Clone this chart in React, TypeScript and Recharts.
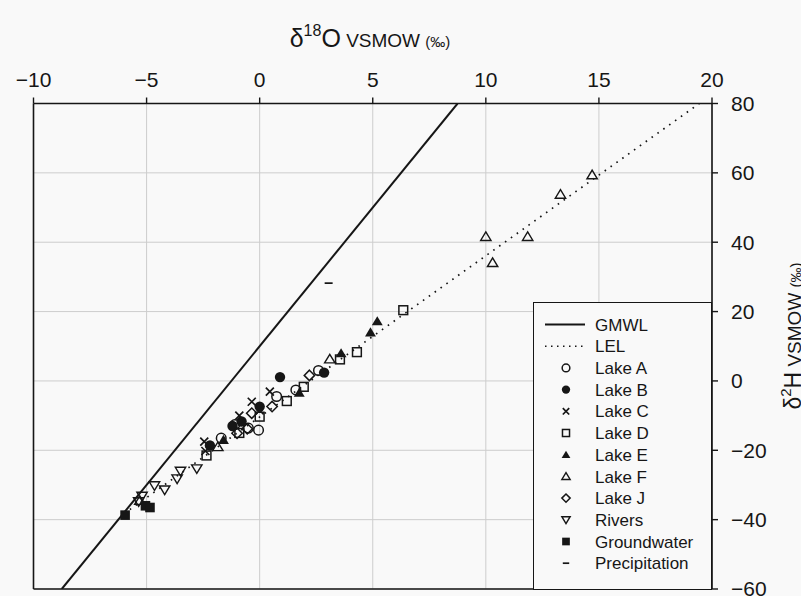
import React from "react";
import {
  ScatterChart,
  Scatter,
  XAxis,
  YAxis,
  CartesianGrid,
  ReferenceLine,
  Legend,
  Customized,
} from "recharts";

const FONT = '"Liberation Sans", Arial, sans-serif';
const INK = "#161616";
const BG = "#f9f9f9";

const X_TICKS = [-10, -5, 0, 5, 10, 15, 20];
const Y_TICKS = [-60, -40, -20, 0, 20, 40, 60, 80];

// reference lines (δ18O, δ2H)
const GMWL: [number, number][] = [[-8.75, -60], [8.75, 80]];
const LEL: [number, number][] = [[-6, -38.3], [19.44, 80]];

// samples
const LAKE_A: [number, number][] = [
  [-1.7, -16.5], [-1.1, -12.6], [-0.5, -13.6], [-0.05, -14.2], [0.75, -4.5], [1.6, -2.6], [2.6, 3.0],
];
const LAKE_B: [number, number][] = [
  [-2.2, -18.6], [-1.2, -13.0], [-0.8, -11.7], [0.0, -7.4], [0.9, 1.1], [2.85, 2.4],
];
const LAKE_C: [number, number][] = [
  [-2.45, -17.5], [-2.4, -20.2], [-0.9, -10.0], [-0.35, -6.0], [0.0, -8.5], [0.45, -3.1],
];
const LAKE_D: [number, number][] = [
  [-2.35, -21.5], [-0.9, -15.0], [0.0, -10.3], [1.2, -5.8], [1.95, -1.7], [3.55, 6.2], [4.3, 8.3], [6.35, 20.4],
];
const LAKE_E: [number, number][] = [
  [-1.6, -17.0], [1.75, -3.4], [3.6, 8.0], [4.9, 14.0], [5.2, 17.2],
];
const LAKE_F: [number, number][] = [
  [-5.3, -34.5], [-1.85, -19.0], [3.1, 6.3], [10.0, 41.6], [10.3, 34.1], [11.85, 41.6], [13.3, 53.8], [14.7, 59.4],
];
const LAKE_J: [number, number][] = [
  [-1.0, -15.1], [-0.55, -13.8], [-0.35, -9.3], [0.55, -7.4], [2.2, 1.6],
];
const RIVERS: [number, number][] = [
  [-5.35, -34.8], [-5.2, -33.2], [-4.65, -30.2], [-4.2, -31.4], [-3.65, -28.2], [-3.5, -26.0], [-2.78, -25.3],
];
const GROUNDWATER: [number, number][] = [[-5.95, -38.7], [-5.05, -36.0], [-4.85, -36.5]];
const PRECIPITATION: [number, number][] = [[3.05, 28.2]];

const pts = (a: [number, number][]) => a.map(([x, y]) => ({ x, y }));

type P = { cx?: number; cy?: number; s?: number };

const NoDot = () => <g />;
const OpenCircle = ({ cx = 0, cy = 0, s = 1 }: P) => (
  <circle cx={cx} cy={cy} r={4.8 * s} fill="none" stroke={INK} strokeWidth={1.5} />
);
const FilledCircle = ({ cx = 0, cy = 0, s = 1 }: P) => <circle cx={cx} cy={cy} r={5.2 * s} fill={INK} />;
const Cross = ({ cx = 0, cy = 0, s = 1 }: P) => {
  const d = 4 * s;
  return (
    <path
      d={`M${cx - d},${cy - d}L${cx + d},${cy + d}M${cx - d},${cy + d}L${cx + d},${cy - d}`}
      stroke={INK}
      strokeWidth={1.7}
    />
  );
};
const OpenSquare = ({ cx = 0, cy = 0, s = 1 }: P) => {
  const d = 4.4 * s;
  return <rect x={cx - d} y={cy - d} width={2 * d} height={2 * d} fill="none" stroke={INK} strokeWidth={1.5} />;
};
const FilledSquare = ({ cx = 0, cy = 0, s = 1 }: P) => {
  const d = 4.8 * s;
  return <rect x={cx - d} y={cy - d} width={2 * d} height={2 * d} fill={INK} />;
};
const tri = (cx: number, cy: number, s: number, up: boolean) => {
  const w = 5.2 * s;
  const h = 4.8 * s;
  return up
    ? `M${cx},${cy - h}L${cx + w},${cy + h * 0.8}L${cx - w},${cy + h * 0.8}Z`
    : `M${cx},${cy + h}L${cx + w},${cy - h * 0.8}L${cx - w},${cy - h * 0.8}Z`;
};
const FilledTriangle = ({ cx = 0, cy = 0, s = 1 }: P) => <path d={tri(cx, cy, s * 1.05, true)} fill={INK} />;
const OpenTriangle = ({ cx = 0, cy = 0, s = 1 }: P) => (
  <path d={tri(cx, cy, s, true)} fill="none" stroke={INK} strokeWidth={1.4} />
);
const DownTriangle = ({ cx = 0, cy = 0, s = 1 }: P) => (
  <path d={tri(cx, cy, s, false)} fill="none" stroke={INK} strokeWidth={1.4} />
);
const Diamond = ({ cx = 0, cy = 0, s = 1 }: P) => {
  const d = 5.2 * s;
  return (
    <path
      d={`M${cx},${cy - d}L${cx + d},${cy}L${cx},${cy + d}L${cx - d},${cy}Z`}
      fill="none"
      stroke={INK}
      strokeWidth={1.5}
    />
  );
};
const Dash = ({ cx = 0, cy = 0, s = 1 }: P) => (
  <line x1={cx - 4 * s} x2={cx + 4 * s} y1={cy} y2={cy} stroke={INK} strokeWidth={1.7} />
);

const SERIES = [
  { name: "Lake A", data: LAKE_A, Shape: OpenCircle },
  { name: "Lake B", data: LAKE_B, Shape: FilledCircle },
  { name: "Lake C", data: LAKE_C, Shape: Cross },
  { name: "Lake D", data: LAKE_D, Shape: OpenSquare },
  { name: "Lake E", data: LAKE_E, Shape: FilledTriangle },
  { name: "Lake F", data: LAKE_F, Shape: OpenTriangle },
  { name: "Lake J", data: LAKE_J, Shape: Diamond },
  { name: "Rivers", data: RIVERS, Shape: DownTriangle },
  { name: "Groundwater", data: GROUNDWATER, Shape: FilledSquare },
  { name: "Precipitation", data: PRECIPITATION, Shape: Dash },
];

const fmt = (v: number) => (v < 0 ? `\u2212${Math.abs(v)}` : `${v}`);

function LegendBox() {
  const rowH = 21.7;
  const y0 = 21.5;
  return (
    <div
      style={{
        width: 179,
        height: 288,
        boxSizing: "border-box",
        border: `1.6px solid ${INK}`,
        background: BG,
      }}
    >
      <svg width={176} height={285} style={{ display: "block" }}>
        <g fontFamily={FONT} fontSize={17} fill={INK}>
          <line x1={11} x2={51} y1={y0} y2={y0} stroke={INK} strokeWidth={2} />
          <text x={61} y={y0} dy="0.36em">GMWL</text>
          <line x1={11} x2={51} y1={y0 + rowH} y2={y0 + rowH} stroke={INK} strokeWidth={1.5} strokeDasharray="1.5 4.5" />
          <text x={61} y={y0 + rowH} dy="0.36em">LEL</text>
          {SERIES.map(({ name, Shape }, i) => {
            const y = y0 + rowH * (i + 2);
            return (
              <g key={name}>
                <Shape cx={32} cy={y} s={0.8} />
                <text x={61} y={y} dy="0.36em">{name}</text>
              </g>
            );
          })}
        </g>
      </svg>
    </div>
  );
}

function Titles() {
  return (
    <g fontFamily={FONT} fill={INK}>
      <text x={370} y={47} textAnchor="middle">
        <tspan fontSize={25}>δ</tspan>
        <tspan fontSize={16} dy={-11}>18</tspan>
        <tspan fontSize={25} dy={11}>O</tspan>
        <tspan fontSize={19}> VSMOW </tspan>
        <tspan fontSize={15}>(‰)</tspan>
      </text>
      <text transform="translate(801,336) rotate(-90)" textAnchor="middle">
        <tspan fontSize={23}>δ</tspan>
        <tspan fontSize={15} dy={-10}>2</tspan>
        <tspan fontSize={23} dy={10}>H</tspan>
        <tspan fontSize={19}> VSMOW </tspan>
        <tspan fontSize={15}>(‰)</tspan>
      </text>
    </g>
  );
}

export default function App() {
  return (
    <div style={{ position: "absolute", left: 0, top: 0, width: 801, height: 596, background: BG }}>
      <ScatterChart width={801} height={596} margin={{ top: 58.5, right: 29, bottom: 7, left: 33.5 }}>
        <CartesianGrid stroke="#cdcdcd" strokeWidth={1} />
        <XAxis
          type="number"
          dataKey="x"
          orientation="top"
          domain={[-10, 20]}
          ticks={X_TICKS}
          tickFormatter={fmt}
          interval={0}
          height={45}
          allowDataOverflow
          axisLine={{ stroke: INK, strokeWidth: 1.6 }}
          tickLine={{ stroke: INK, strokeWidth: 1.4 }}
          tickSize={6}
          tickMargin={11}
          tick={{ fontSize: 21, fill: INK, fontFamily: FONT }}
        />
        <YAxis
          type="number"
          dataKey="y"
          orientation="right"
          domain={[-60, 80]}
          ticks={Y_TICKS}
          tickFormatter={fmt}
          interval={0}
          width={60}
          allowDataOverflow
          axisLine={{ stroke: INK, strokeWidth: 1.6 }}
          tickLine={{ stroke: INK, strokeWidth: 1.4 }}
          tickSize={6}
          tickMargin={13}
          tick={{ fontSize: 21, fill: INK, fontFamily: FONT }}
        />
        <ReferenceLine x={-10} stroke={INK} strokeWidth={1.6} />
        <ReferenceLine y={-60} stroke={INK} strokeWidth={1.6} />
        <Scatter
          name="GMWL"
          data={pts(GMWL)}
          line={{ stroke: INK, strokeWidth: 2 }}
          shape={NoDot}
          legendType="none"
          isAnimationActive={false}
        />
        <Scatter
          name="LEL"
          data={pts(LEL)}
          line={{ stroke: INK, strokeWidth: 1.7, strokeDasharray: "1.6 5.6" }}
          shape={NoDot}
          legendType="none"
          isAnimationActive={false}
        />
        {SERIES.map(({ name, data, Shape }) => (
          <Scatter
            key={name}
            name={name}
            data={pts(data)}
            shape={(p: any) => <Shape cx={p.cx} cy={p.cy} />}
            isAnimationActive={false}
          />
        ))}
        <Legend
          layout="vertical"
          align="center"
          verticalAlign="middle"
          content={() => <LegendBox />}
          wrapperStyle={{ left: 533, top: 302, width: 179, height: 288 }}
        />
        <Customized component={Titles} />
      </ScatterChart>
    </div>
  );
}
